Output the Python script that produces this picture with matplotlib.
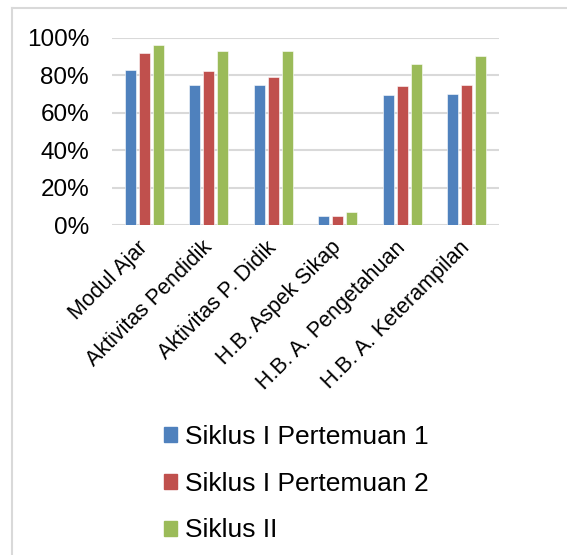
import numpy as np
import matplotlib.pyplot as plt
from matplotlib.lines import Line2D
from matplotlib.patches import Patch
from matplotlib.ticker import PercentFormatter

categories = ["Modul Ajar", "Aktivitas Pendidik", "Aktivitas P. Didik",
              "H.B. Aspek Sikap", "H.B. A. Pengetahuan", "H.B. A. Keterampilan"]
siklus1_p1 = [83, 75, 75, 5, 69.5, 70]
siklus1_p2 = [92, 82, 79, 5, 74, 75]
siklus2 = [96, 93, 93, 7, 86, 90]
series_names = ["Siklus I Pertemuan 1", "Siklus I Pertemuan 2", "Siklus II"]
colors = ["#4F81BD", "#C0504D", "#9BBB59"]

plt.rcParams['font.family'] = ['Liberation Sans', 'DejaVu Sans']

W, H = 567, 555
fig = plt.figure(figsize=(W / 100, H / 100), dpi=100)
ax = fig.add_axes([112 / W, 1 - 225 / H, (499 - 112) / W, (225 - 37.7) / H])

x = np.arange(len(categories))
width = 0.17
step = 0.217
for i, (vals, name, c) in enumerate(zip([siklus1_p1, siklus1_p2, siklus2],
                                        series_names, colors)):
    ax.bar(x + (i - 1) * step, vals, width, color=c, label=name,
           edgecolor='white', linewidth=0.4, zorder=3)

ax.set_xlim(-0.5, len(categories) - 0.5)
ax.set_ylim(0, 100)
ax.set_yticks(np.arange(0, 101, 20))
ax.yaxis.set_major_formatter(PercentFormatter(decimals=0))
ax.grid(axis='y', color='#d9d9d9', linewidth=1.5, zorder=0)
for s in ax.spines.values():
    s.set_visible(False)
ax.tick_params(axis='both', length=0)
ax.tick_params(axis='y', labelsize=17.5, pad=16.5)
ax.set_xticks(x)
ax.set_xticklabels(categories, rotation=45, ha='right', va='center',
                   rotation_mode='anchor', fontsize=15.5)
ax.tick_params(axis='x', pad=14)

handles = [Patch(color=c) for c in colors]
fig.legend(handles, series_names, loc='upper left',
           bbox_to_anchor=(164 / W, 1 - 425 / H), frameon=False,
           fontsize=19, handlelength=0.5, handleheight=0.5,
           handletextpad=0.3, labelspacing=0.86, borderpad=0, borderaxespad=0)

# chart area border (left and top only visible)
fig.add_artist(Line2D([12 / W, 12 / W], [0, 1 - 8 / H], color='#d9d9d9',
                      linewidth=1.5, transform=fig.transFigure))
fig.add_artist(Line2D([12 / W, 1], [1 - 8 / H, 1 - 8 / H], color='#d9d9d9',
                      linewidth=1.5, transform=fig.transFigure))

plt.savefig("out.png", dpi=100)
